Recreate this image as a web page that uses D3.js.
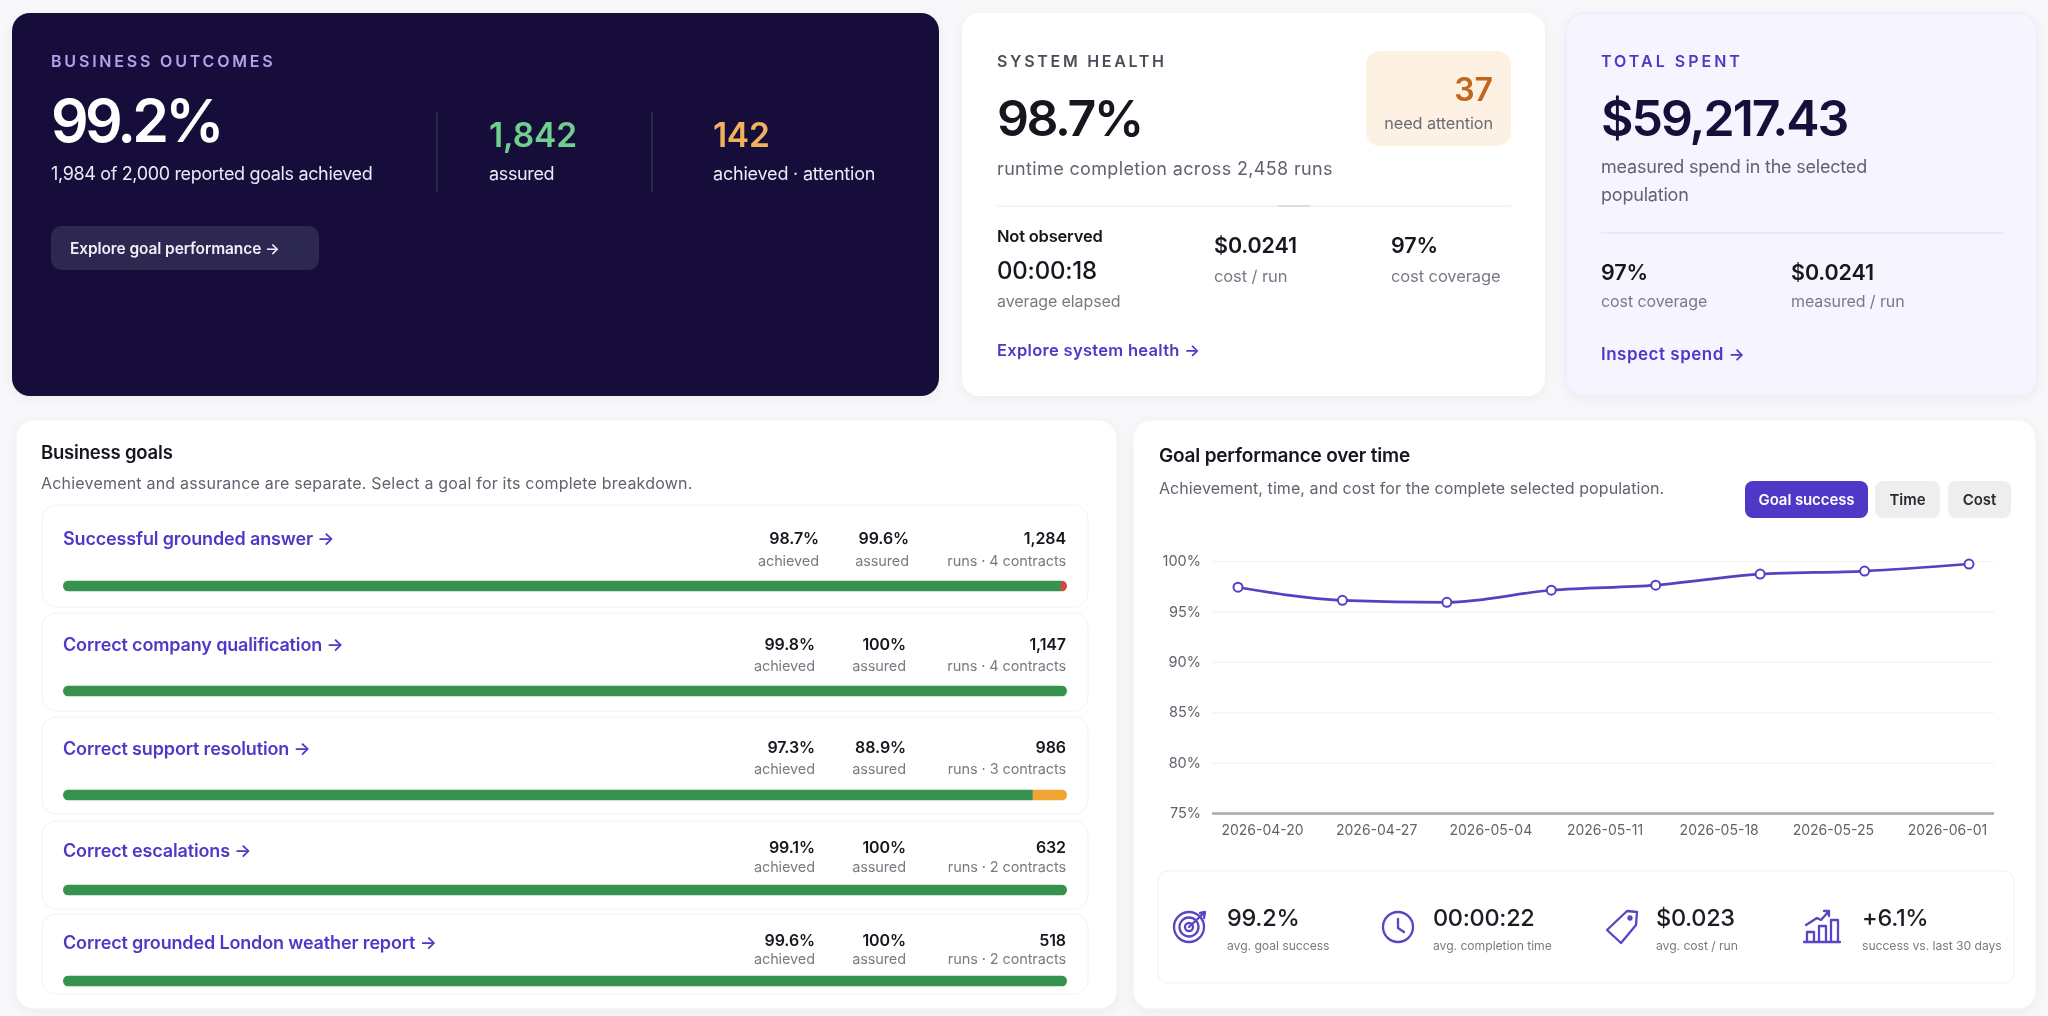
<!DOCTYPE html>
<html>
<head>
<meta charset="utf-8">
<script src="https://cdn.jsdelivr.net/npm/d3@7"></script>
<style>
  html, body { margin: 0; padding: 0; background: #f8f8fa; overflow: hidden; }
  svg { display: block; font-family: Inter, 'Noto Sans', sans-serif; filter: blur(0.45px); }
</style>
</head>
<body>
<svg id="page" width="2048" height="1016"></svg>
<script>
// goals table
let goalNames = [
  'Successful grounded answer →',
  'Correct company qualification →',
  'Correct support resolution →',
  'Correct escalations →',
  'Correct grounded London weather report →'
]
let goalAchieved = ['98.7%', '99.8%', '97.3%', '99.1%', '99.6%']
let goalAssured = ['99.6%', '100%', '88.9%', '100%', '100%']
let goalRuns = ['1,284', '1,147', '986', '632', '518']
let goalContracts = ['runs · 4 contracts', 'runs · 4 contracts', 'runs · 3 contracts', 'runs · 2 contracts', 'runs · 2 contracts']

// stacked bar shares
let barGreen = [99.4, 100, 96.6, 100, 100]
let barOrange = [0, 0, 3.4, 0, 0]
let barRed = [0.6, 0, 0, 0, 0]

// line chart
let pointDates = ['04-20', '04-26', '05-02', '05-08', '05-14', '05-20', '05-26', '06-01']
let goalSuccess = [97.4, 96.1, 95.9, 97.1, 97.6, 98.7, 99.0, 99.7]
let yTicks = [75, 80, 85, 90, 95, 100]
let xTickLabels = ['2026-04-20', '2026-04-27', '2026-05-04', '2026-05-11', '2026-05-18', '2026-05-25', '2026-06-01']

// stat strip
let statValues = ['99.2%', '00:00:22', '$0.023', '+6.1%']
let statLabels = ['avg. goal success', 'avg. completion time', 'avg. cost / run', 'success vs. last 30 days']

let ink = '#14103a'
let dark = '#16161f'
let purple = '#4f37c8'
let grey = '#62626e'
let soft = '#7a7a85'

let svg = d3.select('#page')

let defs = svg.append('defs')
let shadow = defs.append('filter').attr('id', 'soft').attr('x', '-5%').attr('y', '-5%').attr('width', '110%').attr('height', '115%')
shadow.append('feDropShadow').attr('dx', 0).attr('dy', 3).attr('stdDeviation', 6).attr('flood-color', '#1a1640').attr('flood-opacity', 0.05)

function card(x0, y0, x1, y1, fill, stroke, r) {
  return svg
    .append('rect')
    .attr('x', x0)
    .attr('y', y0)
    .attr('width', x1 - x0)
    .attr('height', y1 - y0)
    .attr('rx', r || 18)
    .attr('fill', fill)
    .attr('stroke', stroke || 'none')
}

function label(text, x, y, size, weight, color, anchor, spacing) {
  return svg
    .append('text')
    .text(text)
    .attr('x', x)
    .attr('y', y)
    .attr('dy', '0.36em')
    .attr('font-size', size)
    .attr('font-weight', weight)
    .attr('fill', color)
    .attr('text-anchor', anchor || 'start')
    .attr('letter-spacing', spacing || 0)
}

function hline(x0, x1, y, color) {
  svg.append('line').attr('x1', x0).attr('x2', x1).attr('y1', y).attr('y2', y).attr('stroke', color).attr('stroke-width', 1.5)
}

// ---- cards across the top
card(12, 13, 939, 396, ink).attr('filter', 'url(#soft)')
card(962, 13, 1545, 396, '#ffffff').attr('filter', 'url(#soft)')
card(1566, 13, 2037, 396, '#f6f4fe', '#ebe7f8').attr('filter', 'url(#soft)')
card(16, 420, 1117, 1009, '#ffffff', '#f1f1f4').attr('filter', 'url(#soft)')
card(1133, 420, 2036, 1009, '#ffffff', '#f1f1f4').attr('filter', 'url(#soft)')

// business outcomes
label('BUSINESS OUTCOMES', 51, 61, 16, 600, '#b3a3ee', 'start', 2.8)
label('99.2%', 51, 121, 59, 600, '#ffffff', 'start', -3.8)
label('1,984 of 2,000 reported goals achieved', 51, 174, 18, 400, '#eceaf5', 'start', -0.35)
label('1,842', 489, 135, 33.5, 600, '#6fd08e', 'start', -0.1)
label('assured', 489, 174, 18, 400, '#eceaf5', 'start', -0.35)
label('142', 713, 135, 33.5, 600, '#f2b15c', 'start', -0.3)
label('achieved · attention', 713, 174, 18, 400, '#eceaf5', 'start', -0.2)
svg.selectAll('.hero-div').data([437, 652]).enter().append('line')
  .attr('class', 'hero-div')
  .attr('x1', d => d).attr('x2', d => d).attr('y1', 112).attr('y2', 192)
  .attr('stroke', '#3c3860').attr('stroke-width', 1.2)
card(51, 226, 319, 270, '#2d2850', null, 10)
label('Explore goal performance →', 70, 248, 15.5, 600, '#f0eef8', 'start', -0.1)

// system health
label('SYSTEM HEALTH', 997, 61, 16, 600, '#4c4c58', 'start', 2.7)
label('98.7%', 997, 118, 50, 600, dark, 'start', -2.4)
label('runtime completion across 2,458 runs', 997, 169, 18, 400, grey, 'start', 0.35)
card(1366, 51, 1511, 146, '#fdf1e3', null, 14)
label('37', 1493, 89, 32, 600, '#c4661a', 'end')
label('need attention', 1493, 123, 16.3, 400, '#6a6a75', 'end', -0.1)
hline(997, 1511, 206, '#f0f0f2')
hline(1278, 1310, 206, '#d5d5da')
label('Not observed', 997, 236, 16.5, 600, dark, 'start', -0.2)
label('00:00:18', 997, 270, 24, 500, dark, 'start', -0.2)
label('average elapsed', 997, 301, 16, 400, soft, 'start', -0.1)
label('$0.0241', 1214, 245, 21.5, 600, dark, 'start', -0.1)
label('cost / run', 1214, 276, 16.5, 400, soft, 'start', -0.1)
label('97%', 1391, 245, 21.5, 600, dark, 'start', -0.1)
label('cost coverage', 1391, 276, 16.5, 400, soft, 'start', -0.1)
label('Explore system health →', 997, 350, 16.5, 600, purple, 'start', 0.3)

// total spent
label('TOTAL SPENT', 1601, 61, 16, 600, purple, 'start', 3)
label('$59,217.43', 1601, 118, 50, 600, ink, 'start', -2)
label('measured spend in the selected', 1601, 167, 18, 400, grey, 'start', -0.2)
label('population', 1601, 195, 18, 400, grey, 'start', -0.2)
hline(1601, 2003, 233, '#e9e6f4')
label('97%', 1601, 272, 21.5, 600, dark, 'start', -0.1)
label('cost coverage', 1601, 301, 16, 400, soft, 'start', -0.1)
label('$0.0241', 1791, 272, 21.5, 600, dark, 'start', -0.1)
label('measured / run', 1791, 301, 16, 400, soft, 'start', -0.1)
label('Inspect spend →', 1601, 354, 17, 600, purple, 'start', 0.5)

// ---- business goals
label('Business goals', 41, 452, 18.5, 600, dark, 'start', -0.2)
label('Achievement and assurance are separate. Select a goal for its complete breakdown.', 41, 483, 16, 400, grey, 'start', 0.2)

// row layout in page pixels, the rows are not evenly spaced
let rowTop = [505, 613, 717, 821, 914]
let rowBottom = [607, 711, 814, 909, 994]
let rowName = [539, 645, 749, 851, 943]
let rowValue = [538, 644, 747, 847, 940]
let rowSub = [561, 666, 769, 867, 959]
let rowBar = [586, 691, 795, 890, 981]

let barScale = d3.scaleLinear().domain([0, 100]).range([63, 1067])
let barRows = goalNames.map((d, i) => ({ row: i, green: barGreen[i], orange: barOrange[i], red: barRed[i] }))
let stackKeys = ['green', 'orange', 'red']
let stackColors = d3.scaleOrdinal().domain(stackKeys).range(['#37924f', '#f0a431', '#d8443f'])
let stacked = d3.stack().keys(stackKeys)(barRows)

goalNames.forEach((name, i) => {
  card(42, rowTop[i], 1088, rowBottom[i], '#ffffff', '#f2f2f5', 14)
  label(name, 63, rowName[i], 18, 600, purple, 'start', -0.15)
  let shift = i === 0 ? 4 : 0
  label(goalAchieved[i], 815 + shift, rowValue[i], 16, 600, dark, 'end', -0.1)
  label('achieved', 815 + shift, rowSub[i], 14.5, 400, soft, 'end', -0.1)
  label(goalAssured[i], 906 + shift * 0.75, rowValue[i], 16, 600, dark, 'end', -0.1)
  label('assured', 906 + shift * 0.75, rowSub[i], 14.5, 400, soft, 'end', -0.1)
  label(goalRuns[i], 1066, rowValue[i], 16, 600, dark, 'end', -0.1)
  label(goalContracts[i], 1066, rowSub[i], 14.5, 400, soft, 'end', -0.1)

  defs.append('clipPath').attr('id', 'bar-' + i).append('rect')
    .attr('x', barScale(0)).attr('y', rowBar[i] - 5.5)
    .attr('width', barScale(100) - barScale(0)).attr('height', 11).attr('rx', 5.5)
})

svg
  .append('g')
  .selectAll('g')
  .data(stacked)
  .enter()
  .append('g')
  .attr('fill', d => stackColors(d.key))
  .selectAll('rect')
  .data(d => d)
  .enter()
  .append('rect')
  .attr('clip-path', d => `url(#bar-${d.data.row})`)
  .attr('x', d => barScale(d[0]))
  .attr('y', d => rowBar[d.data.row] - 5.5)
  .attr('width', d => barScale(d[1]) - barScale(d[0]))
  .attr('height', 11)

// ---- goal performance chart
label('Goal performance over time', 1159, 455, 19, 600, dark, 'start', -0.2)
label('Achievement, time, and cost for the complete selected population.', 1159, 488, 16, 400, grey, 'start', 0.07)
card(1745, 481, 1868, 518, purple, null, 8)
label('Goal success', 1806.5, 500, 15, 600, '#ffffff', 'middle', -0.1)
card(1875, 481, 1940, 518, '#eeeeef', null, 8)
label('Time', 1907.5, 500, 15, 600, '#2a2a33', 'middle')
card(1948, 481, 2011, 518, '#eeeeef', null, 8)
label('Cost', 1979.5, 500, 15, 600, '#2a2a33', 'middle')

let yScale = d3.scaleLinear().domain([75, 100]).range([813, 561])
let xPoints = d3.scalePoint().domain(pointDates).range([1238, 1969])
let xLabels = d3.scalePoint().domain(xTickLabels).range([1262, 1947])

let yAxis = d3
  .axisLeft(yScale)
  .tickValues(yTicks)
  .tickFormat(d => d + '%')
  .tickSize(-782)
  .tickPadding(11)

svg
  .append('g')
  .attr('transform', 'translate(1212,0)')
  .call(yAxis)
  .call(g => g.select('.domain').remove())
  .call(g => g.selectAll('.tick line').attr('stroke', d => (d === 75 ? '#a8a8ad' : '#f5f5f7')).attr('stroke-width', d => (d === 75 ? 2.5 : 1.5)))
  .call(g => g.selectAll('.tick text').attr('font-size', 14.5).attr('font-family', 'Inter').attr('fill', '#62626e'))

let xAxis = d3.axisBottom(xLabels).tickSize(0).tickPadding(12)

svg
  .append('g')
  .attr('transform', 'translate(0,813)')
  .call(xAxis)
  .call(g => g.select('.domain').remove())
  .call(g => g.selectAll('.tick text').attr('font-size', 14).attr('font-family', 'Inter').attr('fill', '#62626e'))

let line = d3
  .line()
  .x((d, i) => xPoints(pointDates[i]))
  .y(d => yScale(d))
  .curve(d3.curveMonotoneX)

svg
  .append('path')
  .datum(goalSuccess)
  .attr('d', line)
  .attr('fill', 'none')
  .attr('stroke', '#5640c4')
  .attr('stroke-width', 2.7)

svg
  .selectAll('.point')
  .data(goalSuccess)
  .enter()
  .append('circle')
  .attr('class', 'point')
  .attr('cx', (d, i) => xPoints(pointDates[i]))
  .attr('cy', d => yScale(d))
  .attr('r', 4.5)
  .attr('fill', '#ffffff')
  .attr('stroke', '#5640c4')
  .attr('stroke-width', 2)

// ---- stat strip
card(1158, 871, 2014, 983, '#ffffff', '#f1f1f4', 10)
let statX = [1227, 1433, 1656, 1862]
statValues.forEach((d, i) => {
  label(d, statX[i], 918, 23.5, 500, '#1c1c24', 'start', -0.3)
  label(statLabels[i], statX[i], 946, 12.2, 400, soft, 'start', -0.05)
})

// icons, drawn around their own center
let icons = svg.append('g').attr('fill', 'none').attr('stroke', '#5a44c6').attr('stroke-width', 2.3).attr('stroke-linecap', 'round').attr('stroke-linejoin', 'round')

let target = icons.append('g').attr('transform', 'translate(1189,927)')
target.selectAll('circle').data([15, 9.5, 4]).enter().append('circle').attr('r', d => d)
target.append('path').attr('d', 'M0 0L16 -15M11 -14L16 -15L15 -9')

let clock = icons.append('g').attr('transform', 'translate(1398,927)')
clock.append('circle').attr('r', 15)
clock.append('path').attr('d', 'M0 -8V1L6 5')

let tag = icons.append('g').attr('transform', 'translate(1622,927)')
tag.append('path').attr('d', 'M-15 3L5 -16L15 -15L14 -2L-1 16Z')
tag.append('circle').attr('cx', 8).attr('cy', -9).attr('r', 1.5)

let chartIcon = icons.append('g').attr('transform', 'translate(1822,927)')
chartIcon.append('path').attr('d', 'M-18 15H18M-15 15V5H-8V15M-3 15V-1H4V15M9 15V-7H16V15M-16 -2L-5 -9L-1 -7L7 -16M2 -16H7V-11')
</script>
</body>
</html>
